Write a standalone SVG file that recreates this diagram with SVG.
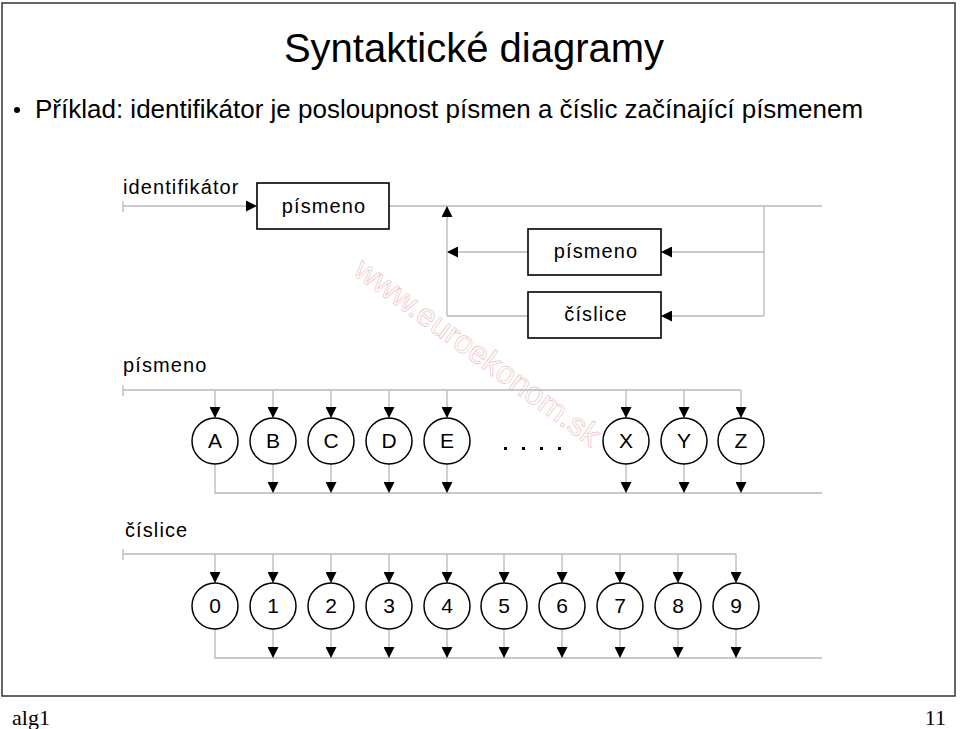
<svg xmlns="http://www.w3.org/2000/svg" width="960" height="729" viewBox="0 0 960 729">
<style>
.t{font-family:"Liberation Sans",Arial,sans-serif;fill:#000}
.lbl{font-family:"Liberation Sans",Arial,sans-serif;font-size:20px;letter-spacing:1.1px;fill:#000}
.ch{font-family:"Liberation Sans",Arial,sans-serif;font-size:21px;fill:#000;text-anchor:middle}
.ln{stroke:#b8b8b8;stroke-width:1.3;fill:none}
.ar{stroke:#b8b8b8;stroke-width:1.3;fill:none;marker-end:url(#ah)}
.box{fill:#fff;stroke:#000;stroke-width:1.6}
.wm{font-family:"Liberation Sans",Arial,sans-serif;font-size:32px;fill:#fff;stroke:#eab9b9;stroke-width:0.6}
</style>
<defs>
<marker id="ah" viewBox="0 0 10 10" refX="10" refY="5" markerUnits="userSpaceOnUse" markerWidth="11" markerHeight="11" orient="auto">
<path d="M0,0 L10,5 L0,10 z" fill="#000"/>
</marker>
</defs>
<rect x="0" y="0" width="960" height="729" fill="#fff"/>
<rect x="2" y="3" width="953" height="693" fill="none" stroke="#333" stroke-width="1.5"/>
<text class="t" x="474" y="62" font-size="40" text-anchor="middle">Syntaktické diagramy</text>
<circle cx="17" cy="110" r="3" fill="#000"/>
<text class="t" x="35" y="118" font-size="26">Příklad: identifikátor je posloupnost písmen a číslic začínající písmenem</text>
<text x="12" y="725" font-family="Liberation Serif,'Times New Roman',serif" font-size="22">alg1</text>
<text x="946" y="725" font-family="Liberation Serif,'Times New Roman',serif" font-size="22" text-anchor="end">11</text>

<g id="watermark">
<text class="wm" x="352" y="274" transform="rotate(36 352 274)">www.euroekonom.sk</text>
</g>

<g id="connectors">
<!-- identifikator -->
<line class="ln" x1="123" y1="201" x2="123" y2="212"/>
<line class="ar" x1="123" y1="206" x2="257" y2="206"/>
<line class="ln" x1="389" y1="206" x2="822" y2="206"/>
<line class="ln" x1="764" y1="206" x2="764" y2="316"/>
<line class="ar" x1="764" y1="252" x2="661" y2="252"/>
<line class="ar" x1="764" y1="316" x2="661" y2="316"/>
<line class="ar" x1="528" y1="252" x2="447" y2="252"/>
<polyline class="ln" points="528,316 447,316"/>
<line class="ar" x1="447" y1="316" x2="447" y2="206"/>
<!-- pismeno -->
<line class="ln" x1="123" y1="385" x2="123" y2="396"/>
<line class="ln" x1="123" y1="390" x2="741" y2="390"/>
<line class="ar" x1="215" y1="390" x2="215" y2="418"/>
<line class="ar" x1="273" y1="390" x2="273" y2="418"/>
<line class="ar" x1="331" y1="390" x2="331" y2="418"/>
<line class="ar" x1="389" y1="390" x2="389" y2="418"/>
<line class="ar" x1="447" y1="390" x2="447" y2="418"/>
<line class="ar" x1="626" y1="390" x2="626" y2="418"/>
<line class="ar" x1="684" y1="390" x2="684" y2="418"/>
<line class="ar" x1="741" y1="390" x2="741" y2="418"/>
<polyline class="ln" points="215,464 215,493 822,493"/>
<line class="ar" x1="273" y1="464" x2="273" y2="493"/>
<line class="ar" x1="331" y1="464" x2="331" y2="493"/>
<line class="ar" x1="389" y1="464" x2="389" y2="493"/>
<line class="ar" x1="447" y1="464" x2="447" y2="493"/>
<line class="ar" x1="626" y1="464" x2="626" y2="493"/>
<line class="ar" x1="684" y1="464" x2="684" y2="493"/>
<line class="ar" x1="741" y1="464" x2="741" y2="493"/>
<!-- cislice -->
<line class="ln" x1="123" y1="549" x2="123" y2="560"/>
<line class="ln" x1="123" y1="554" x2="736" y2="554"/>
<line class="ar" x1="215" y1="554" x2="215" y2="583"/>
<line class="ar" x1="273" y1="554" x2="273" y2="583"/>
<line class="ar" x1="331" y1="554" x2="331" y2="583"/>
<line class="ar" x1="389" y1="554" x2="389" y2="583"/>
<line class="ar" x1="447" y1="554" x2="447" y2="583"/>
<line class="ar" x1="504" y1="554" x2="504" y2="583"/>
<line class="ar" x1="562" y1="554" x2="562" y2="583"/>
<line class="ar" x1="620" y1="554" x2="620" y2="583"/>
<line class="ar" x1="678" y1="554" x2="678" y2="583"/>
<line class="ar" x1="736" y1="554" x2="736" y2="583"/>
<polyline class="ln" points="215,629 215,658 822,658"/>
<line class="ar" x1="273" y1="629" x2="273" y2="658"/>
<line class="ar" x1="331" y1="629" x2="331" y2="658"/>
<line class="ar" x1="389" y1="629" x2="389" y2="658"/>
<line class="ar" x1="447" y1="629" x2="447" y2="658"/>
<line class="ar" x1="504" y1="629" x2="504" y2="658"/>
<line class="ar" x1="562" y1="629" x2="562" y2="658"/>
<line class="ar" x1="620" y1="629" x2="620" y2="658"/>
<line class="ar" x1="678" y1="629" x2="678" y2="658"/>
<line class="ar" x1="736" y1="629" x2="736" y2="658"/>
</g>

<g id="labels">
<text class="lbl" x="123" y="194">identifikátor</text>
<text class="lbl" x="123" y="372">písmeno</text>
<text class="lbl" x="125" y="537">číslice</text>
</g>

<g id="box-pismeno-1"><rect class="box" x="257" y="183" width="132" height="46"/><text class="lbl" x="324" y="213" text-anchor="middle">písmeno</text></g>
<g id="box-pismeno-2"><rect class="box" x="528" y="229" width="133" height="46"/><text class="lbl" x="596" y="258" text-anchor="middle">písmeno</text></g>
<g id="box-cislice"><rect class="box" x="528" y="292" width="133" height="46"/><text class="lbl" x="596" y="321" text-anchor="middle">číslice</text></g>

<g id="letters" stroke="#000" stroke-width="1.5" fill="#fff">
<g id="c-A"><circle cx="215" cy="441" r="23"/><text class="ch" stroke="none" x="215" y="448">A</text></g>
<g id="c-B"><circle cx="273" cy="441" r="23"/><text class="ch" stroke="none" x="273" y="448">B</text></g>
<g id="c-C"><circle cx="331" cy="441" r="23"/><text class="ch" stroke="none" x="331" y="448">C</text></g>
<g id="c-D"><circle cx="389" cy="441" r="23"/><text class="ch" stroke="none" x="389" y="448">D</text></g>
<g id="c-E"><circle cx="447" cy="441" r="23"/><text class="ch" stroke="none" x="447" y="448">E</text></g>
<g id="c-X"><circle cx="626" cy="441" r="23"/><text class="ch" stroke="none" x="626" y="448">X</text></g>
<g id="c-Y"><circle cx="684" cy="441" r="23"/><text class="ch" stroke="none" x="684" y="448">Y</text></g>
<g id="c-Z"><circle cx="741" cy="441" r="23"/><text class="ch" stroke="none" x="741" y="448">Z</text></g>
</g>
<g id="dots" fill="#000">
<rect x="504" y="447" width="3" height="3"/>
<rect x="522" y="447" width="3" height="3"/>
<rect x="540" y="447" width="3" height="3"/>
<rect x="558" y="447" width="3" height="3"/>
</g>

<g id="digits" stroke="#000" stroke-width="1.5" fill="#fff">
<g id="d-0"><circle cx="215" cy="606" r="23"/><text class="ch" stroke="none" x="215" y="613">0</text></g>
<g id="d-1"><circle cx="273" cy="606" r="23"/><text class="ch" stroke="none" x="273" y="613">1</text></g>
<g id="d-2"><circle cx="331" cy="606" r="23"/><text class="ch" stroke="none" x="331" y="613">2</text></g>
<g id="d-3"><circle cx="389" cy="606" r="23"/><text class="ch" stroke="none" x="389" y="613">3</text></g>
<g id="d-4"><circle cx="447" cy="606" r="23"/><text class="ch" stroke="none" x="447" y="613">4</text></g>
<g id="d-5"><circle cx="504" cy="606" r="23"/><text class="ch" stroke="none" x="504" y="613">5</text></g>
<g id="d-6"><circle cx="562" cy="606" r="23"/><text class="ch" stroke="none" x="562" y="613">6</text></g>
<g id="d-7"><circle cx="620" cy="606" r="23"/><text class="ch" stroke="none" x="620" y="613">7</text></g>
<g id="d-8"><circle cx="678" cy="606" r="23"/><text class="ch" stroke="none" x="678" y="613">8</text></g>
<g id="d-9"><circle cx="736" cy="606" r="23"/><text class="ch" stroke="none" x="736" y="613">9</text></g>
</g>
</svg>
